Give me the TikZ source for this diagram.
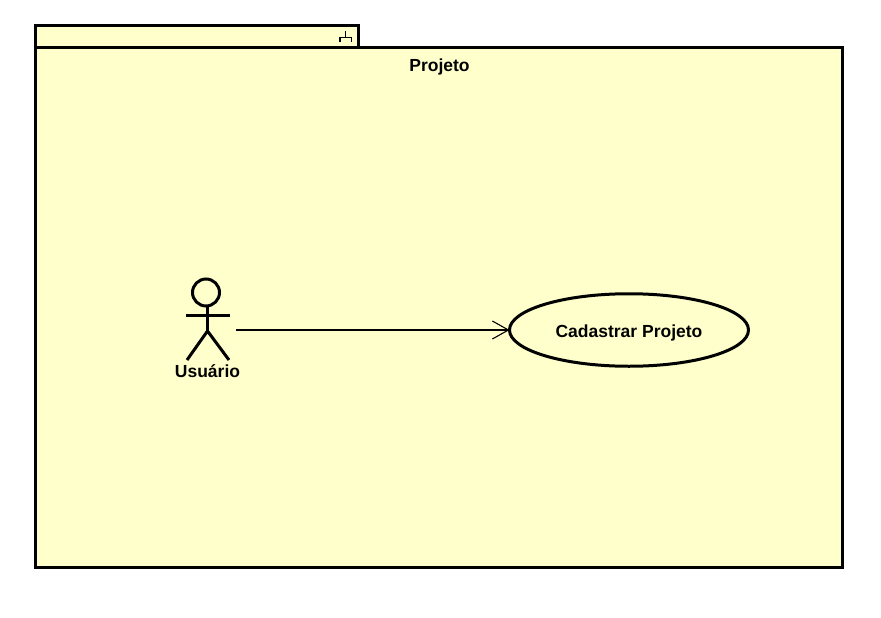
\documentclass[tikz,border=0pt]{standalone}
\usepackage{fontspec}
\setmainfont{Liberation Sans}
\usetikzlibrary{arrows.meta,shapes.geometric}
\definecolor{umlfill}{RGB}{255,255,204}
\tikzset{
  pkg/.style={draw=black,fill=umlfill,line width=3pt,line join=miter},
  thick3/.style={draw=black,line width=3pt},
  iconline/.style={draw=black,line width=1.4pt},
  lbl/.style={font=\fontsize{17.5pt}{20pt}\selectfont\bfseries,text=black,inner sep=0pt},
  usecase/.style={ellipse,draw=black,fill=umlfill,line width=3pt,minimum width=239pt,minimum height=72.5pt,inner sep=0pt,text height=14pt,text depth=0pt,font=\fontsize{17.5pt}{20pt}\selectfont\bfseries},
  assoc/.style={draw=black,line width=1.1pt,shorten >=-1.5pt,-{Straight Barb[length=16pt,width=18pt,line width=1.1pt]}}
}
\begin{document}
\begin{tikzpicture}[x=1pt,y=-1pt]
\useasboundingbox (0,0) rectangle (881,618);
\fill[white] (0,0) rectangle (881,618);
% package
\draw[pkg] (35.5,25.5) rectangle (358.5,47.5);
\draw[pkg] (35.5,47.5) rectangle (842.5,567.5);
\node[lbl] (title) at (439.5,67) {Projeto};
% package icon
\draw[iconline] (345.5,31) -- (345.5,37.5);
\draw[iconline] (340,42.5) -- (340,37.5) -- (351.5,37.5) -- (351.5,42.5);
% actor
\draw[thick3] (206,292.5) circle (13.5);
\draw[thick3] (207,306) -- (207,331);
\draw[thick3] (186,315) -- (230,315);
\draw[thick3] (187,360) -- (207.5,331) -- (229,360);
\node[lbl] (usuario) at (207.5,371.5) {Usuário};
\coordinate (actor) at (236,330);
% use case
\node[usecase] (uc) at (629,330) {Cadastrar Projeto};
\draw[assoc] (actor) -- (uc.west);
\end{tikzpicture}
\end{document}
